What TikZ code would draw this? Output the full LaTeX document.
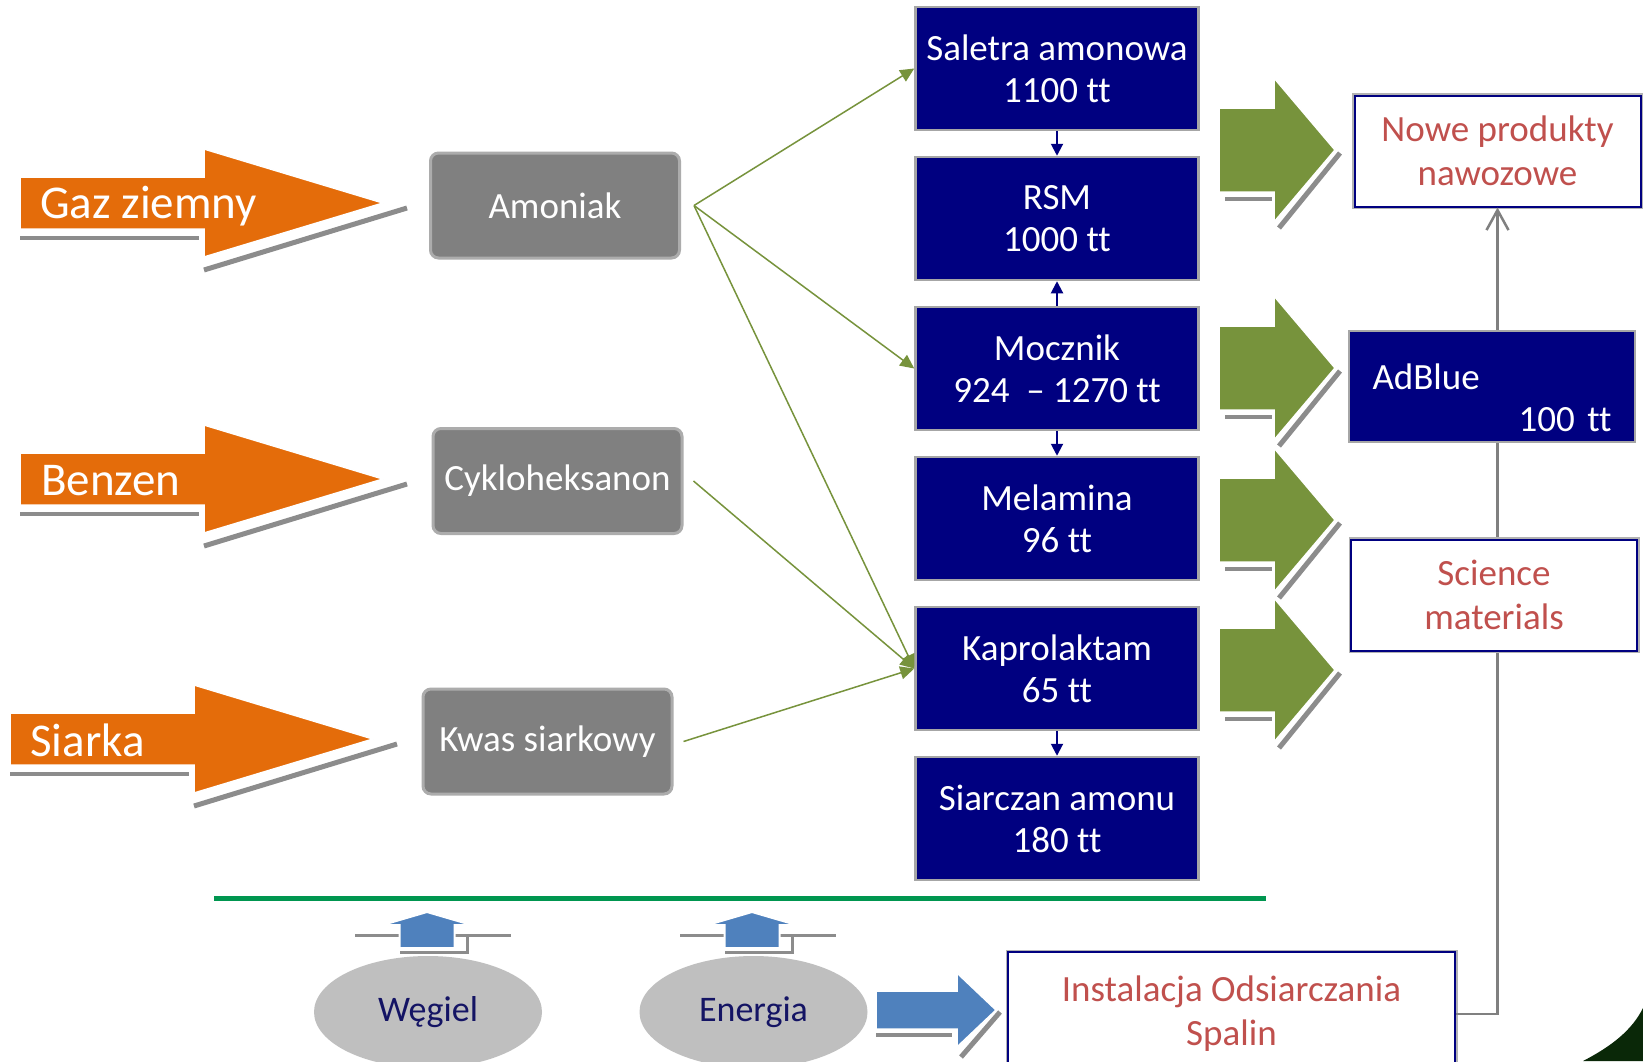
\documentclass[tikz,border=0pt]{standalone}
\usepackage{fontspec}
\setmainfont{Carlito}[Ligatures={TeX,NoCommon}]
\usetikzlibrary{positioning, arrows.meta, shapes.geometric}

\definecolor{prodblue}{RGB}{0,0,128}
\definecolor{srcorange}{RGB}{228,108,10}
\definecolor{arrowgreen}{RGB}{119,147,60}
\definecolor{rawgray}{RGB}{128,128,128}
\definecolor{newred}{RGB}{192,80,77}
\definecolor{steel}{RGB}{79,129,189}
\definecolor{rulegreen}{RGB}{0,150,80}
\definecolor{ovalgray}{RGB}{191,191,191}
\definecolor{ovaltext}{RGB}{20,20,100}
\definecolor{cornergreen}{RGB}{10,40,8}

\begin{document}
\begin{tikzpicture}[x=1pt, y=-1pt,
     node distance = 24.5pt and 24.5pt,
   srclabel/.style = {text=white, font=\fontsize{47}{52}\selectfont, inner sep=0pt},
     rawbox/.style = {rectangle, rounded corners=8pt, fill=rawgray, draw=gray!65, line width=3pt,
                      minimum width=249pt, minimum height=105pt, text=white, font=\fontsize{37}{42}\selectfont},
       prod/.style = {rectangle, fill=prodblue, draw=gray!70, line width=2.5pt, minimum width=283pt,
                      minimum height=123pt, text=white, align=center, font=\fontsize{37}{42}\selectfont},
     outbox/.style = {rectangle, fill=white, draw=prodblue, line width=2pt, preaction={draw=gray!60, line width=5pt},
                      minimum width=286pt, minimum height=111pt, text=newred, align=center, font=\fontsize{37}{44}\selectfont},
       oval/.style = {ellipse, fill=ovalgray, minimum width=228pt, minimum height=112pt, text=ovaltext,
                      font=\fontsize{36}{40}\selectfont},
   greenarr/.style = {draw=arrowgreen, line width=1.5pt, -{Triangle[length=14pt, width=13pt]}},
    navyarr/.style = {draw=prodblue, line width=2pt, -{Triangle[length=12pt, width=12pt]}},
   feedline/.style = {draw=gray, line width=2.5pt, -{Straight Barb[length=20pt, width=22pt]}},
 shadowline/.style = {draw=black!45, line width=4pt}
                        ]
\path[use as bounding box] (0,0) rectangle (1643,1061);
\clip (0,0) rectangle (1643,1061);
\fill[white] (0,0) rectangle (1643,1061);

\foreach \tx/\ty in {383/203, 383/479, 373/739} {
  \draw[shadowline] (\tx-363,\ty+35) -- (\tx-184,\ty+35);
  \draw[shadowline, line width=5pt] (\tx-179,\ty+67) -- (\tx+24,\ty+5);
  \fill[srcorange, draw=white, line width=1.5pt] (\tx-363,\ty-26) -- (\tx-179,\ty-26) -- (\tx-179,\ty-54)
     -- (\tx,\ty) -- (\tx-179,\ty+54) -- (\tx-179,\ty+26) -- (\tx-363,\ty+26) -- cycle;
}
\node (gaz)    [srclabel, anchor=base west] at (40,218) {Gaz ziemny};
\node (benzen) [srclabel, anchor=base west] at (41,495) {Benzen};
\node (siarka) [srclabel, anchor=base west] at (30,756) {Siarka};

\node (amoniak) [rawbox] at (555,205.5) {Amoniak};
\node (cyklo)   [rawbox] at (557.5,481) {Cykloheksanon};
\node (kwas)    [rawbox] at (547.5,741.5) {Kwas siarkowy};

\node (saletra)  [prod] at (1057,68.5) {Saletra amonowa\\1100 tt};
\node (rsm)      [prod, below=of saletra]  {RSM\\1000 tt};
\node (mocznik)  [prod, below=of rsm]      {Mocznik\\924~ – 1270 tt};
\node (melamina) [prod, below=of mocznik]  {Melamina\\96 tt};
\node (kapro)    [prod, below=of melamina] {Kaprolaktam\\65 tt};
\node (siarczan) [prod, below=of kapro]    {Siarczan amonu\\180 tt};

\draw[navyarr] (saletra) -- (rsm);
\draw[navyarr] (mocznik) -- (rsm);
\draw[navyarr] (mocznik) -- (melamina);
\draw[navyarr] (kapro) -- (siarczan);

\draw[greenarr] ([xshift=13pt]amoniak.east) -- (saletra.west);
\draw[greenarr] ([xshift=13pt]amoniak.east) -- (mocznik.west);
\draw[greenarr] ([xshift=13pt]amoniak.east) -- (kapro.west);
\draw[greenarr] ([xshift=10pt]cyklo.east) -- (kapro.west);
\draw[greenarr] ([xshift=10pt]kwas.east) -- (kapro.west);

\foreach \ty in {150, 368, 520, 670} {
  \draw[shadowline] (1225,\ty+49) -- (1272,\ty+49);
  \draw[shadowline, line width=5pt] (1279,\ty+78) -- (1340,\ty+3);
  \fill[arrowgreen, draw=white, line width=1.5pt] (1219,\ty-42) -- (1274,\ty-42) -- (1274,\ty-72) -- (1335,\ty)
     -- (1274,\ty+72) -- (1274,\ty+42) -- (1219,\ty+42) -- cycle;
}

\node (nowe)   [outbox] at (1497.5,151) {Nowe produkty\\nawozowe};
\node (instal) [outbox, minimum width=447pt, minimum height=124pt] at (1231.5,1014) {Instalacja Odsiarczania\\Spalin};
\draw[feedline] (instal.east) -- (instal.east -| nowe.south) -- (nowe.south);
\node (adblue)  [prod, minimum width=286pt, minimum height=111pt, align=left, text width=239pt] at (1492,386.5)
   {\rule{0pt}{48pt}AdBlue\\\makebox[239pt][r]{100 tt}};
\node (science) [outbox] at (1494,595) {Science\\materials};

\draw[rulegreen, line width=5pt] (214,898) -- (1266,898);

\node (wegiel)  [oval] at (428,1012) {Węgiel};
\node (energia) [oval] at (753.5,1012) {Energia};
\foreach \tx in {427, 752} {
  \draw[shadowline, line width=3pt] (\tx-72,935) -- (\tx+84,935);
  \draw[shadowline, line width=3pt] (\tx+40,935) -- (\tx+40,952) -- (\tx-27,952);
  \fill[steel, draw=white, line width=2pt] (\tx,912) -- (\tx+44.5,925) -- (\tx+27.5,925) -- (\tx+27.5,948)
     -- (\tx-27.5,948) -- (\tx-27.5,925) -- (\tx-44.5,925) -- cycle;
}
\draw[shadowline] (876,1035) -- (952,1035);
\draw[shadowline, line width=5pt] (961,1057) -- (1000,1012);
\fill[steel, draw=white, line width=1.5pt] (876,991) -- (957,991) -- (957,973) -- (996,1010) -- (957,1047)
   -- (957,1029) -- (876,1029) -- cycle;

\fill[cornergreen] (1583,1061) .. controls (1612,1046) and (1632,1030) .. (1643,1008) -- (1643,1061) -- cycle;
\end{tikzpicture}
\end{document}
